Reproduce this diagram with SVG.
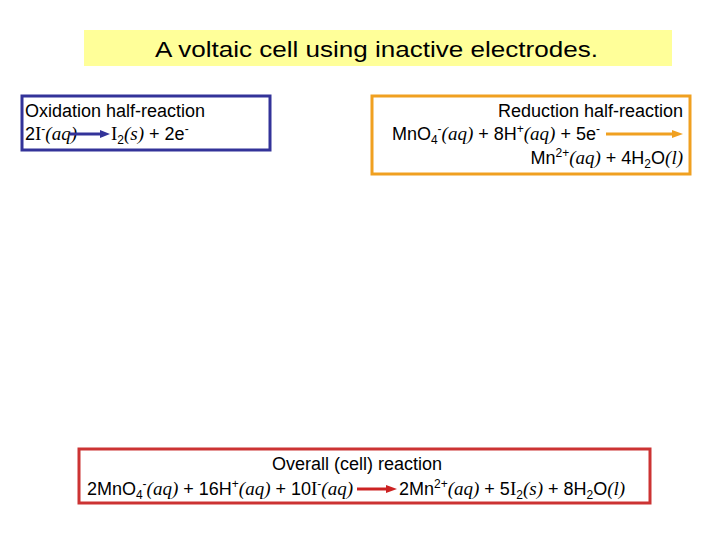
<svg xmlns="http://www.w3.org/2000/svg" width="720" height="540" viewBox="0 0 720 540">
<style>
text{font-family:"Liberation Sans",Arial,sans-serif;font-size:18px;fill:#000}
.i{font-family:"Liberation Serif","Times New Roman",serif;font-style:italic;font-size:19px}
.r{font-family:"Liberation Serif","Times New Roman",serif;font-size:19px}
.s{font-size:12px}
.box{fill:#fff;stroke-width:3}
</style>
<rect width="720" height="540" fill="#fff"/>
<g id="title"><rect x="84" y="30" width="588" height="36" fill="#ffff99"/>
<text x="155" y="57" textLength="443" lengthAdjust="spacingAndGlyphs" style="font-size:22px">A voltaic cell using inactive electrodes.</text></g>
<g id="oxidation"><rect class="box" x="22" y="96" width="248" height="54" stroke="#333399"/>
<text x="25" y="117">Oxidation half-reaction</text>
<text x="25" y="140">2<tspan class="r">I</tspan><tspan dy="-7" class="s">-</tspan><tspan dy="7" class="i">(aq)</tspan></text>
<text x="111" y="140"><tspan class="r">I</tspan><tspan dy="4" class="s">2</tspan><tspan dy="-4" class="i">(s)</tspan> + 2e<tspan dy="-7" class="s">-</tspan></text></g>
<g id="reduction"><rect class="box" x="372" y="96" width="318" height="78" stroke="#f0a020"/>
<text x="683" y="117" text-anchor="end">Reduction half-reaction</text>
<text x="600" y="140" text-anchor="end">MnO<tspan dy="4" class="s">4</tspan><tspan dy="-11" class="s">-</tspan><tspan dy="7" class="i">(aq)</tspan> + 8H<tspan dy="-7" class="s">+</tspan><tspan dy="7" class="i">(aq)</tspan> + 5e<tspan dy="-7" class="s">-</tspan></text>
<text x="683" y="164" text-anchor="end">Mn<tspan dy="-7" class="s">2+</tspan><tspan dy="7" class="i">(aq)</tspan> + 4H<tspan dy="4" class="s">2</tspan><tspan dy="-4">O</tspan><tspan class="i">(l)</tspan></text></g>
<g id="overall"><rect class="box" x="79" y="449" width="571" height="54" stroke="#cc3333"/>
<text x="357" y="470" text-anchor="middle">Overall (cell) reaction</text>
<text x="353" y="495" text-anchor="end">2MnO<tspan dy="4" class="s">4</tspan><tspan dy="-11" class="s">-</tspan><tspan dy="7" class="i">(aq)</tspan> + 16H<tspan dy="-7" class="s">+</tspan><tspan dy="7" class="i">(aq)</tspan> + 10<tspan class="r">I</tspan><tspan dy="-7" class="s">-</tspan><tspan dy="7" class="i">(aq)</tspan></text>
<text x="399" y="495">2Mn<tspan dy="-7" class="s">2+</tspan><tspan dy="7" class="i">(aq)</tspan> + 5<tspan class="r">I</tspan><tspan dy="4" class="s">2</tspan><tspan dy="-4" class="i">(s)</tspan> + 8H<tspan dy="4" class="s">2</tspan><tspan dy="-4">O</tspan><tspan class="i">(l)</tspan></text></g>
<g id="connectors">
<line x1="70" y1="134" x2="102" y2="134" stroke="#333399" stroke-width="3"/><polygon points="100,130 110,134 100,138" fill="#333399"/>
<line x1="606" y1="134" x2="674" y2="134" stroke="#f0a020" stroke-width="3"/><polygon points="672,130 683,134 672,138" fill="#f0a020"/>
<line x1="357" y1="489" x2="388" y2="489" stroke="#cc2222" stroke-width="3"/><polygon points="386,485 397,489 386,493" fill="#cc2222"/>
</g>
</svg>
